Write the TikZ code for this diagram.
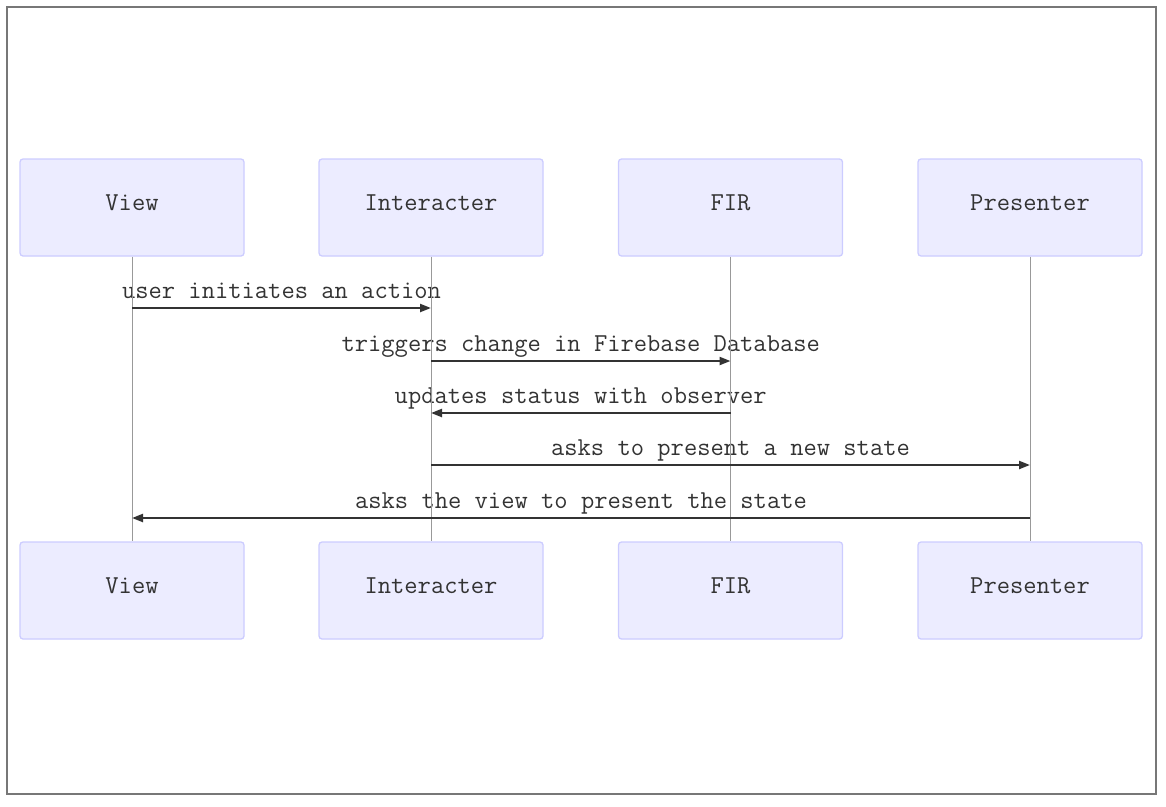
\documentclass[tikz,border=0pt]{standalone}
\usepackage{fontspec}
\usetikzlibrary{arrows.meta}
\definecolor{boxfill}{HTML}{ECECFF}
\definecolor{boxline}{HTML}{CCCCFF}
\definecolor{txt}{HTML}{333333}
\definecolor{life}{HTML}{999999}
\definecolor{frame}{HTML}{777777}
\begin{document}
\begin{tikzpicture}[x=1pt,y=-1pt,
  actor/.style={draw=boxline, fill=boxfill, line width=1.3pt, rounded corners=3pt,
    minimum width=224pt, minimum height=97pt, inner sep=0pt, text=txt,
    font=\ttfamily\fontsize{25.8}{28}\selectfont},
  lifeline/.style={draw=life, line width=0.8pt},
  msg/.style={draw=txt, line width=2.2pt, -{Triangle[length=11pt,width=8pt]}},
  lbl/.style={anchor=base, inner sep=0pt, text=txt, font=\ttfamily\fontsize{25.8}{28}\selectfont}]
\useasboundingbox (0,0) rectangle (1166,806);
\draw[frame, line width=1.6pt] (7,7) rectangle (1156,794);
% actors top
\node[actor] (vt) at (132,207.5) {\raisebox{9pt}{View}};
\node[actor] (it) at (431,207.5) {\raisebox{9pt}{Interacter}};
\node[actor] (ft) at (730.5,207.5) {\raisebox{9pt}{FIR}};
\node[actor] (pt) at (1030,207.5) {\raisebox{9pt}{Presenter}};
% actors bottom
\node[actor] (vb) at (132,590.5) {\raisebox{9pt}{View}};
\node[actor] (ib) at (431,590.5) {\raisebox{9pt}{Interacter}};
\node[actor] (fb) at (730.5,590.5) {\raisebox{9pt}{FIR}};
\node[actor] (pb) at (1030,590.5) {\raisebox{9pt}{Presenter}};
% labels
\node[lbl] (l1) at (281.5,298) {user initiates an action};
\node[lbl] (l2) at (580.75,351) {triggers change in Firebase Database};
\node[lbl] (l3) at (580.75,403) {updates status with observer};
\node[lbl] (l4) at (730.5,455) {asks to present a new state};
\node[lbl] (l5) at (581,508) {asks the view to present the state};
% lifelines
\draw[lifeline] (vt.south) -- (vb.north);
\draw[lifeline] (it.south) -- (ib.north);
\draw[lifeline] (ft.south) -- (fb.north);
\draw[lifeline] (pt.south) -- (pb.north);
% messages
\draw[msg] (vt.south |- 0,308) -- (it.south |- 0,308);
\draw[msg] (it.south |- 0,361) -- (ft.south |- 0,361);
\draw[msg] (ft.south |- 0,413) -- (it.south |- 0,413);
\draw[msg] (it.south |- 0,465) -- (pt.south |- 0,465);
\draw[msg] (pt.south |- 0,518) -- (vt.south |- 0,518);
\end{tikzpicture}
\end{document}
